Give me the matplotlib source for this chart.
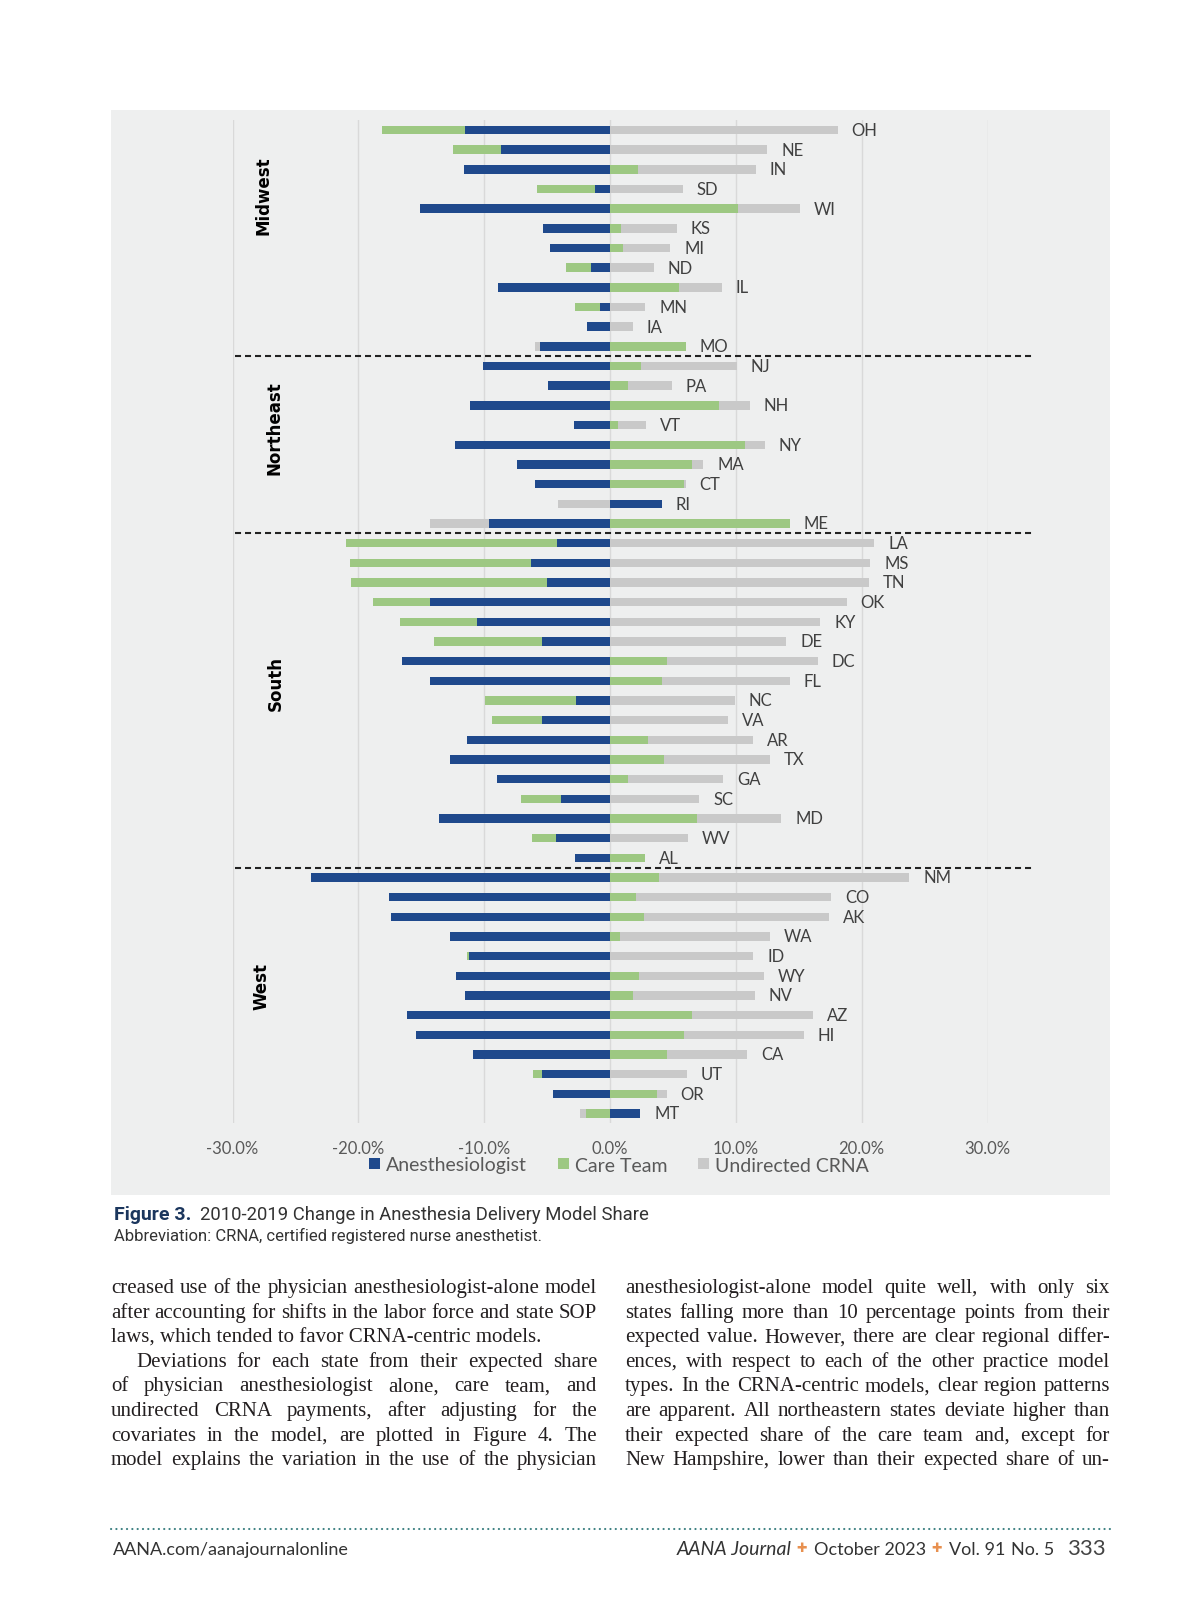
import numpy as np
import matplotlib
matplotlib.use('Agg')
import matplotlib.pyplot as plt
from matplotlib.patches import Rectangle, Patch
from matplotlib.lines import Line2D

W, H = 1200, 1606  # page size in px

# ---- chart data (percentage points, 2010-2019 change) ----
states = ['OH', 'NE', 'IN', 'SD', 'WI', 'KS', 'MI', 'ND', 'IL', 'MN', 'IA', 'MO',
          'NJ', 'PA', 'NH', 'VT', 'NY', 'MA', 'CT', 'RI', 'ME',
          'LA', 'MS', 'TN', 'OK', 'KY', 'DE', 'DC', 'FL', 'NC', 'VA', 'AR', 'TX', 'GA', 'SC', 'MD', 'WV', 'AL',
          'NM', 'CO', 'AK', 'WA', 'ID', 'WY', 'NV', 'AZ', 'HI', 'CA', 'UT', 'OR', 'MT']
anes = [-11.5, -8.7, -11.6, -1.2, -15.1, -5.3, -4.8, -1.5, -8.9, -0.8, -1.8, -5.6,
        -10.1, -4.9, -11.1, -2.9, -12.3, -7.4, -6.0, 4.1, -9.6,
        -4.2, -6.3, -5.0, -14.3, -10.6, -5.4, -16.5, -14.3, -2.7, -5.4, -11.4, -12.7, -9.0, -3.9, -13.6, -4.3, -2.8,
        -23.8, -17.6, -17.4, -12.7, -11.2, -12.2, -11.5, -16.1, -15.4, -10.9, -5.4, -4.5, 2.4]
care = [-6.6, -3.8, 2.2, -4.6, 10.2, 0.9, 1.0, -2.0, 5.5, -2.0, 0.0, 6.0,
        2.5, 1.4, 8.7, 0.6, 10.7, 6.5, 5.9, 0.0, 14.3,
        -16.8, -14.4, -15.6, -4.5, -6.1, -8.6, 4.5, 4.1, -7.2, -4.0, 3.0, 4.3, 1.4, -3.2, 6.9, -1.9, 2.8,
        3.9, 2.1, 2.7, 0.8, -0.2, 2.3, 1.8, 6.5, 5.9, 4.5, -0.7, 3.7, -1.9]
crna = [18.1, 12.5, 9.4, 5.8, 4.9, 4.4, 3.8, 3.5, 3.4, 2.8, 1.8, -0.4,
        7.6, 3.5, 2.4, 2.3, 1.6, 0.9, 0.1, -4.1, -4.7,
        21.0, 20.7, 20.6, 18.8, 16.7, 14.0, 12.0, 10.2, 9.9, 9.4, 8.4, 8.4, 7.6, 7.1, 6.7, 6.2, 0.0,
        19.9, 15.5, 14.7, 11.9, 11.4, 9.9, 9.7, 9.6, 9.5, 6.4, 6.1, 0.8, -0.5]
series_names = ['Anesthesiologist', 'Care Team', 'Undirected CRNA']
regions = ['Midwest', 'Northeast', 'South', 'West']
region_breaks = [11.5, 20.5, 37.5]
xticks = [-30, -20, -10, 0, 10, 20, 30]

colors = ['#1F498C', '#9DC882', '#C9C9C9']
plt.rcParams['font.family'] = ['Lato', 'DejaVu Sans']

fig = plt.figure(figsize=(W / 100, H / 100), dpi=100)
fig.patch.set_facecolor('white')

# grey panel behind the chart
fig.add_artist(Rectangle((111 / W, 1 - 1196 / H), (1110 - 111) / W, (1196 - 111) / H,
                         transform=fig.transFigure, facecolor='#EEEFEF', edgecolor='none', zorder=-1))

ax = fig.add_axes([232.5 / W, 1 - 1124.3 / H, 755 / W, (1124.3 - 121.2) / H])
ax.patch.set_alpha(0)

y = np.arange(len(states))
neg = np.zeros(len(states))
pos = np.zeros(len(states))
for vals, c, name in zip([anes, care, crna], colors, series_names):
    v = np.array(vals)
    ax.barh(y, v, left=np.where(v < 0, neg, pos), height=0.43, color=c, label=name, zorder=3)
    neg += np.minimum(v, 0)
    pos += np.maximum(v, 0)

for i, s in enumerate(states):
    ax.annotate(s, (pos[i], i), xytext=(10, 0), textcoords='offset points',
                va='center', ha='left', fontsize=12, color='#404040')

ax.set_xlim(-30, 30)
ax.set_ylim(len(states) - 0.5, -0.5)
ax.set_xticks(xticks)
ax.set_xticklabels(['%.1f%%' % t for t in xticks])
ax.set_yticks([])
ax.tick_params(axis='x', length=0, pad=12, labelsize=12, labelcolor='#595959')
ax.grid(axis='x', color='#D9D9D9', lw=1)
ax.set_axisbelow(True)
for sp in ax.spines.values():
    sp.set_visible(False)

# region separators
for b in region_breaks:
    ax.plot([-29.8, 33.5], [b, b], color='#222222', lw=1.5, ls=(0, (2.9, 1.9)),
            clip_on=False, zorder=4)

# region names
region_pos = [(-27.5, 3.3), (-26.7, 15.1), (-26.6, 28.1), (-27.7, 43.5)]
for name, (rx, ry) in zip(regions, region_pos):
    ax.text(rx, ry, name, rotation=90, ha='center', va='center', fontsize=12,
            fontweight='bold', family='DejaVu Sans', color='black')

handles = [Patch(facecolor=c, edgecolor='none') for c in colors]
fig.legend(handles, series_names, loc='center', bbox_to_anchor=(619 / W, 1 - 1166 / H), ncol=3,
           frameon=False, prop={'family': 'Lato', 'size': 14}, labelcolor='#595959',
           handlelength=0.55, handleheight=0.55, handletextpad=0.3, columnspacing=1.6)

# ---- caption ----
cap_font = ['Liberation Sans Narrow', 'Roboto']
fig.text(114 / W, 1 - 1220 / H, 'Figure 3.', fontsize=14, fontweight='bold', color='#1B365D',
         family=cap_font, va='baseline')
fig.text(200 / W, 1 - 1220 / H, '2010-2019 Change in Anesthesia Delivery Model Share', fontsize=13.3,
         color='#333333', family=cap_font, va='baseline')
fig.text(114 / W, 1 - 1241 / H, 'Abbreviation: CRNA, certified registered nurse anesthetist.',
         fontsize=12, color='#333333', family=cap_font, va='baseline')

# ---- body text, two justified columns ----
rend = fig.canvas.get_renderer()
body_kw = dict(fontsize=15, family='Liberation Serif', color='#231F20', va='baseline')


def put_line(text, x0, x1, ybase, justify, indent=0):
    if not justify:
        fig.text((x0 + indent) / W, 1 - ybase / H, text, **body_kw)
        return
    words = text.split()
    arts = [fig.text(0, 1 - ybase / H, w, **body_kw) for w in words]
    widths = [a.get_window_extent(rend).width for a in arts]
    gap = (x1 - x0 - indent - sum(widths)) / (len(words) - 1)
    x = x0 + indent
    for a, w in zip(arts, widths):
        a.set_x(x / W)
        x += w + gap


left_col = [
    ('creased use of the physician anesthesiologist-alone model', True, 0),
    ('after accounting for shifts in the labor force and state SOP', True, 0),
    ('laws, which tended to favor CRNA-centric models.', False, 0),
    ('Deviations for each state from their expected share', True, 25),
    ('of physician anesthesiologist alone, care team, and', True, 0),
    ('undirected CRNA payments, after adjusting for the', True, 0),
    ('covariates in the model, are plotted in Figure 4. The', True, 0),
    ('model explains the variation in the use of the physician', True, 0),
]
right_col = [
    'anesthesiologist-alone model quite well, with only six',
    'states falling more than 10 percentage points from their',
    'expected value. However, there are clear regional differ-',
    'ences, with respect to each of the other practice model',
    'types. In the CRNA-centric models, clear region patterns',
    'are apparent. All northeastern states deviate higher than',
    'their expected share of the care team and, except for',
    'New Hampshire, lower than their expected share of un-',
]
for k, (txt, just, ind) in enumerate(left_col):
    put_line(txt, 111, 597, 1293 + k * 24.6, just, ind)
for k, txt in enumerate(right_col):
    put_line(txt, 625, 1110, 1293 + k * 24.6, True)

# ---- footer ----
fig.add_artist(Line2D([111 / W, 1110 / W], [1 - 1530 / H] * 2, transform=fig.transFigure,
                      color='#3A7F80', lw=1.5, ls=(0, (0.1, 2.45)), dash_capstyle='round'))
foot_y = 1 - 1555 / H
fig.text(113 / W, foot_y, 'AANA.com/aanajournalonline', fontsize=13, color='#333333', va='baseline')
fig.text(677 / W, foot_y, 'AANA Journal', fontsize=14, style='italic', color='#333333', va='baseline')
fig.text(802 / W, 1 - 1549 / H, '✚', fontsize=9, family='DejaVu Sans', color='#E8904F',
         ha='center', va='center')
fig.text(814 / W, foot_y, 'October 2023', fontsize=13, color='#333333', va='baseline')
fig.text(937 / W, 1 - 1549 / H, '✚', fontsize=9, family='DejaVu Sans', color='#E8904F',
         ha='center', va='center')
fig.text(949 / W, foot_y, 'Vol. 91', fontsize=13, color='#333333', va='baseline')
fig.text(1011 / W, foot_y, 'No. 5', fontsize=13, color='#333333', va='baseline')
fig.text(1067 / W, foot_y, '333', fontsize=16, color='#444444', va='baseline')

fig.savefig('out.png', dpi=100)
